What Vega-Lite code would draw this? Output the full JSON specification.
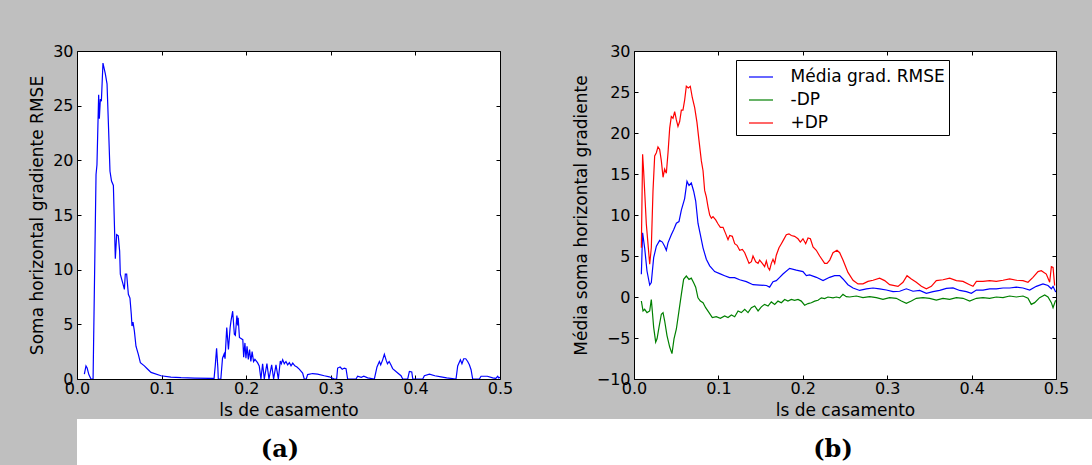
{
 "$schema": "https://vega.github.io/schema/vega-lite/v6.json",
 "background": "#bfbfbf",
 "padding": {"left": 28, "top": 42, "right": 0, "bottom": 0},
 "config": {
  "font": "DejaVu Sans",
  "view": {"stroke": "#000", "strokeWidth": 1, "fill": "white"},
  "axis": {"grid": false, "domain": false, "ticks": true, "tickColor": "#000", "tickSize": -4, "labelFont": "DejaVu Sans", "labelFontSize": 16, "labelColor": "#000", "titleFont": "DejaVu Sans", "titleFontSize": 17, "titleFontWeight": "normal", "titleColor": "#000", "labelFlush": false, "labelOverlap": false},
  "axisX": {"labelPadding": 5, "titlePadding": 6},
  "axisY": {"labelPadding": 8, "titlePadding": 6}
 },
 "datasets": {
  "a": [
   {"x":0.0087,"y":0.45},{"x":0.0106,"y":1.2},{"x":0.012,"y":1.0},{"x":0.014,"y":0.4},{"x":0.0165,"y":0.0},{"x":0.019,"y":0.0},{"x":0.0225,"y":18.7},{"x":0.0236,"y":19.6},{"x":0.0256,"y":26.0},{"x":0.0264,"y":23.8},{"x":0.0276,"y":25.6},{"x":0.0288,"y":25.4},{"x":0.0307,"y":28.9},{"x":0.0335,"y":27.9},{"x":0.0355,"y":27.0},{"x":0.0374,"y":22.7},{"x":0.039,"y":19.0},{"x":0.0408,"y":18.1},{"x":0.043,"y":17.7},{"x":0.0441,"y":14.5},{"x":0.0453,"y":11.0},{"x":0.0469,"y":13.2},{"x":0.0488,"y":13.1},{"x":0.0504,"y":11.7},{"x":0.0512,"y":9.6},{"x":0.054,"y":8.8},{"x":0.056,"y":8.2},{"x":0.0571,"y":9.6},{"x":0.0587,"y":9.6},{"x":0.0607,"y":7.75},{"x":0.0626,"y":7.4},{"x":0.0642,"y":5.9},{"x":0.065,"y":4.85},{"x":0.0662,"y":5.2},{"x":0.0678,"y":4.4},{"x":0.0697,"y":3.0},{"x":0.0725,"y":2.26},{"x":0.0749,"y":1.5},{"x":0.0796,"y":1.2},{"x":0.0836,"y":0.89},{"x":0.0875,"y":0.6},{"x":0.0993,"y":0.3},{"x":0.111,"y":0.18},{"x":0.123,"y":0.12},{"x":0.139,"y":0.08},{"x":0.16,"y":0.05},{"x":0.162,"y":0.03},{"x":0.1634,"y":1.2},{"x":0.165,"y":2.8},{"x":0.1665,"y":1.0},{"x":0.167,"y":0.0},{"x":0.17,"y":0.0},{"x":0.172,"y":1.9},{"x":0.174,"y":2.3},{"x":0.175,"y":1.85},{"x":0.177,"y":4.7},{"x":0.179,"y":2.7},{"x":0.181,"y":4.7},{"x":0.182,"y":5.3},{"x":0.184,"y":6.2},{"x":0.186,"y":4.1},{"x":0.1872,"y":4.0},{"x":0.189,"y":5.8},{"x":0.19,"y":4.9},{"x":0.1905,"y":5.6},{"x":0.192,"y":3.8},{"x":0.196,"y":3.6},{"x":0.197,"y":2.0},{"x":0.1985,"y":3.3},{"x":0.1997,"y":1.9},{"x":0.201,"y":3.0},{"x":0.2025,"y":1.8},{"x":0.204,"y":2.7},{"x":0.2055,"y":1.6},{"x":0.207,"y":2.5},{"x":0.2087,"y":1.6},{"x":0.2103,"y":1.8},{"x":0.2134,"y":1.5},{"x":0.2154,"y":1.2},{"x":0.2174,"y":0.0},{"x":0.2194,"y":1.4},{"x":0.2214,"y":0.0},{"x":0.2245,"y":1.4},{"x":0.2269,"y":0.0},{"x":0.2301,"y":1.3},{"x":0.2324,"y":0.0},{"x":0.2352,"y":1.3},{"x":0.238,"y":0.0},{"x":0.2403,"y":1.65},{"x":0.2415,"y":1.4},{"x":0.2431,"y":1.77},{"x":0.245,"y":1.4},{"x":0.247,"y":1.6},{"x":0.249,"y":1.3},{"x":0.251,"y":1.5},{"x":0.253,"y":1.2},{"x":0.255,"y":1.45},{"x":0.2575,"y":1.2},{"x":0.26,"y":1.1},{"x":0.2627,"y":0.9},{"x":0.2667,"y":0.55},{"x":0.2686,"y":0.0},{"x":0.271,"y":0.0},{"x":0.2726,"y":0.4},{"x":0.2785,"y":0.5},{"x":0.2844,"y":0.45},{"x":0.2923,"y":0.3},{"x":0.2982,"y":0.2},{"x":0.3041,"y":0.0},{"x":0.3069,"y":0.0},{"x":0.3081,"y":1.0},{"x":0.311,"y":1.1},{"x":0.3135,"y":0.9},{"x":0.316,"y":1.0},{"x":0.318,"y":0.95},{"x":0.3199,"y":0.0},{"x":0.3298,"y":0.0},{"x":0.3317,"y":0.25},{"x":0.336,"y":0.15},{"x":0.339,"y":0.25},{"x":0.3436,"y":0.1},{"x":0.3515,"y":0.0},{"x":0.3546,"y":1.1},{"x":0.3574,"y":1.6},{"x":0.359,"y":1.3},{"x":0.3613,"y":1.75},{"x":0.3633,"y":2.26},{"x":0.3655,"y":1.7},{"x":0.367,"y":1.4},{"x":0.369,"y":1.6},{"x":0.371,"y":1.3},{"x":0.3731,"y":0.95},{"x":0.3791,"y":0.55},{"x":0.383,"y":0.3},{"x":0.385,"y":0.0},{"x":0.3909,"y":0.0},{"x":0.3929,"y":0.7},{"x":0.3957,"y":0.65},{"x":0.3969,"y":0.0},{"x":0.4087,"y":0.0},{"x":0.4106,"y":0.3},{"x":0.4166,"y":0.45},{"x":0.423,"y":0.3},{"x":0.4303,"y":0.2},{"x":0.437,"y":0.1},{"x":0.448,"y":0.0},{"x":0.45,"y":1.2},{"x":0.4532,"y":1.75},{"x":0.455,"y":1.4},{"x":0.4571,"y":1.85},{"x":0.4595,"y":1.85},{"x":0.4618,"y":1.6},{"x":0.4638,"y":1.3},{"x":0.4658,"y":0.85},{"x":0.4677,"y":0.0},{"x":0.4756,"y":0.0},{"x":0.4776,"y":0.25},{"x":0.485,"y":0.25},{"x":0.4914,"y":0.1},{"x":0.495,"y":0.05},{"x":0.4973,"y":0.25},{"x":0.4985,"y":0.1},{"x":0.5,"y":0.15}
  ],
  "bm": [
   {"x":0.0087,"y":2.77},{"x":0.0102,"y":7.84},{"x":0.0126,"y":6.0},{"x":0.0154,"y":3.17},{"x":0.0186,"y":1.46},{"x":0.0205,"y":1.75},{"x":0.0233,"y":4.8},{"x":0.0265,"y":6.2},{"x":0.0304,"y":6.9},{"x":0.0336,"y":6.7},{"x":0.0363,"y":6.2},{"x":0.0383,"y":5.7},{"x":0.0403,"y":6.6},{"x":0.0442,"y":7.6},{"x":0.047,"y":8.2},{"x":0.0502,"y":9.0},{"x":0.0533,"y":9.2},{"x":0.0561,"y":10.6},{"x":0.06,"y":12.0},{"x":0.0628,"y":14.1},{"x":0.0652,"y":13.6},{"x":0.0679,"y":13.9},{"x":0.0707,"y":12.9},{"x":0.0731,"y":11.7},{"x":0.0758,"y":9.0},{"x":0.0786,"y":7.6},{"x":0.0818,"y":6.0},{"x":0.0857,"y":4.6},{"x":0.0897,"y":3.8},{"x":0.0956,"y":3.1},{"x":0.1015,"y":2.85},{"x":0.1074,"y":2.6},{"x":0.1133,"y":2.36},{"x":0.1192,"y":2.36},{"x":0.1252,"y":2.1},{"x":0.1331,"y":1.87},{"x":0.141,"y":1.5},{"x":0.1489,"y":1.46},{"x":0.1568,"y":1.4},{"x":0.1607,"y":1.2},{"x":0.1647,"y":1.87},{"x":0.1686,"y":2.0},{"x":0.1726,"y":2.4},{"x":0.1765,"y":2.8},{"x":0.1844,"y":3.5},{"x":0.1923,"y":3.27},{"x":0.2002,"y":3.1},{"x":0.2042,"y":2.6},{"x":0.2081,"y":2.7},{"x":0.2161,"y":2.4},{"x":0.224,"y":2.0},{"x":0.2318,"y":2.4},{"x":0.2377,"y":2.6},{"x":0.2437,"y":2.6},{"x":0.2476,"y":2.2},{"x":0.2535,"y":1.5},{"x":0.2595,"y":1.1},{"x":0.2674,"y":0.8},{"x":0.2753,"y":1.0},{"x":0.2832,"y":1.1},{"x":0.291,"y":1.0},{"x":0.299,"y":0.85},{"x":0.3069,"y":0.65},{"x":0.3148,"y":0.7},{"x":0.3227,"y":1.0},{"x":0.3306,"y":0.7},{"x":0.3385,"y":0.8},{"x":0.3464,"y":0.45},{"x":0.3543,"y":0.65},{"x":0.3622,"y":0.8},{"x":0.3701,"y":1.06},{"x":0.378,"y":1.1},{"x":0.3859,"y":0.8},{"x":0.3938,"y":0.65},{"x":0.3997,"y":0.45},{"x":0.4057,"y":0.85},{"x":0.4135,"y":0.85},{"x":0.4214,"y":1.0},{"x":0.4293,"y":1.0},{"x":0.4372,"y":1.1},{"x":0.4451,"y":1.1},{"x":0.453,"y":1.2},{"x":0.4609,"y":1.1},{"x":0.4688,"y":0.85},{"x":0.4767,"y":1.3},{"x":0.4846,"y":1.6},{"x":0.4905,"y":1.4},{"x":0.4945,"y":1.0},{"x":0.4965,"y":1.3},{"x":0.4996,"y":0.6}
  ],
  "blo": [
   {"x":0.0087,"y":-0.49},{"x":0.0107,"y":-1.7},{"x":0.0126,"y":-1.5},{"x":0.0154,"y":-1.9},{"x":0.0186,"y":-1.7},{"x":0.0205,"y":-0.3},{"x":0.0217,"y":-1.7},{"x":0.0233,"y":-3.7},{"x":0.0257,"y":-5.5},{"x":0.0273,"y":-5.1},{"x":0.0296,"y":-3.7},{"x":0.0324,"y":-2.1},{"x":0.0344,"y":-1.9},{"x":0.0363,"y":-2.9},{"x":0.0391,"y":-4.7},{"x":0.0423,"y":-6.1},{"x":0.045,"y":-6.9},{"x":0.0474,"y":-5.1},{"x":0.0502,"y":-3.9},{"x":0.0533,"y":-1.7},{"x":0.0561,"y":0.33},{"x":0.0588,"y":2.15},{"x":0.062,"y":2.56},{"x":0.0652,"y":2.15},{"x":0.0679,"y":2.3},{"x":0.0707,"y":1.75},{"x":0.0731,"y":1.2},{"x":0.0758,"y":-0.1},{"x":0.0786,"y":-0.5},{"x":0.0818,"y":-0.7},{"x":0.0849,"y":-1.3},{"x":0.0889,"y":-1.9},{"x":0.0928,"y":-2.5},{"x":0.0975,"y":-2.4},{"x":0.1023,"y":-2.6},{"x":0.1074,"y":-2.3},{"x":0.1114,"y":-2.5},{"x":0.1154,"y":-2.2},{"x":0.1193,"y":-2.4},{"x":0.1233,"y":-1.7},{"x":0.1272,"y":-1.9},{"x":0.1312,"y":-1.5},{"x":0.1351,"y":-1.9},{"x":0.1391,"y":-1.3},{"x":0.143,"y":-1.1},{"x":0.147,"y":-1.7},{"x":0.1509,"y":-1.2},{"x":0.1548,"y":-0.9},{"x":0.1588,"y":-1.1},{"x":0.1627,"y":-0.6},{"x":0.1667,"y":-0.9},{"x":0.1706,"y":-0.5},{"x":0.1746,"y":-0.7},{"x":0.1785,"y":-0.3},{"x":0.1824,"y":-0.5},{"x":0.1864,"y":-0.3},{"x":0.1903,"y":-0.4},{"x":0.1943,"y":-0.3},{"x":0.1982,"y":-0.5},{"x":0.2022,"y":-1.0},{"x":0.2062,"y":-0.8},{"x":0.2101,"y":-0.7},{"x":0.2141,"y":-0.5},{"x":0.218,"y":-0.4},{"x":0.222,"y":-0.1},{"x":0.2259,"y":-0.2},{"x":0.2298,"y":0.0},{"x":0.2358,"y":-0.1},{"x":0.2397,"y":0.0},{"x":0.2437,"y":-0.1},{"x":0.2476,"y":0.33},{"x":0.2515,"y":0.04},{"x":0.2555,"y":0.0},{"x":0.2634,"y":0.12},{"x":0.2713,"y":-0.08},{"x":0.2792,"y":0.04},{"x":0.2871,"y":-0.08},{"x":0.295,"y":-0.28},{"x":0.3029,"y":-0.08},{"x":0.3108,"y":-0.16},{"x":0.3168,"y":-0.49},{"x":0.3227,"y":-0.77},{"x":0.3286,"y":-0.49},{"x":0.3345,"y":-0.16},{"x":0.3424,"y":-0.08},{"x":0.3503,"y":-0.16},{"x":0.3582,"y":-0.37},{"x":0.3661,"y":-0.16},{"x":0.374,"y":-0.28},{"x":0.382,"y":-0.08},{"x":0.3898,"y":-0.16},{"x":0.3977,"y":-0.49},{"x":0.4057,"y":-0.16},{"x":0.4135,"y":-0.08},{"x":0.4214,"y":-0.16},{"x":0.4293,"y":0.0},{"x":0.4372,"y":-0.08},{"x":0.4451,"y":0.12},{"x":0.453,"y":0.0},{"x":0.4609,"y":0.12},{"x":0.4668,"y":-0.16},{"x":0.4707,"y":-0.9},{"x":0.4747,"y":-0.69},{"x":0.4806,"y":-0.08},{"x":0.4866,"y":0.25},{"x":0.4905,"y":0.0},{"x":0.4945,"y":-0.69},{"x":0.4965,"y":-1.3},{"x":0.4996,"y":-0.4}
  ],
  "bhi": [
   {"x":0.0087,"y":6.0},{"x":0.0102,"y":17.4},{"x":0.0114,"y":15.4},{"x":0.0146,"y":8.9},{"x":0.0186,"y":4.0},{"x":0.0205,"y":6.0},{"x":0.0225,"y":12.9},{"x":0.0245,"y":17.2},{"x":0.0265,"y":17.6},{"x":0.0284,"y":18.3},{"x":0.0304,"y":18.0},{"x":0.0324,"y":16.6},{"x":0.0344,"y":14.6},{"x":0.0363,"y":15.6},{"x":0.0383,"y":15.1},{"x":0.0403,"y":17.6},{"x":0.0423,"y":20.6},{"x":0.0442,"y":22.0},{"x":0.0462,"y":21.8},{"x":0.0482,"y":22.6},{"x":0.0502,"y":21.6},{"x":0.0521,"y":20.8},{"x":0.0541,"y":21.4},{"x":0.0561,"y":22.8},{"x":0.058,"y":22.8},{"x":0.06,"y":24.0},{"x":0.062,"y":25.7},{"x":0.0644,"y":25.5},{"x":0.0667,"y":25.7},{"x":0.0691,"y":24.3},{"x":0.0719,"y":23.1},{"x":0.0746,"y":21.3},{"x":0.077,"y":19.1},{"x":0.0798,"y":16.6},{"x":0.0818,"y":15.4},{"x":0.0837,"y":13.0},{"x":0.0857,"y":12.2},{"x":0.0877,"y":11.0},{"x":0.0897,"y":10.0},{"x":0.0917,"y":9.6},{"x":0.0936,"y":9.8},{"x":0.0968,"y":9.4},{"x":0.0996,"y":8.9},{"x":0.1023,"y":8.5},{"x":0.1055,"y":8.5},{"x":0.1087,"y":7.7},{"x":0.1114,"y":7.0},{"x":0.1134,"y":7.5},{"x":0.1165,"y":7.4},{"x":0.1193,"y":6.5},{"x":0.1221,"y":6.3},{"x":0.1252,"y":5.7},{"x":0.1284,"y":5.8},{"x":0.1312,"y":5.4},{"x":0.1331,"y":4.9},{"x":0.1363,"y":4.1},{"x":0.1391,"y":4.3},{"x":0.141,"y":5.0},{"x":0.1442,"y":4.3},{"x":0.147,"y":4.1},{"x":0.1489,"y":4.5},{"x":0.152,"y":4.1},{"x":0.1548,"y":3.7},{"x":0.1568,"y":4.4},{"x":0.1588,"y":3.6},{"x":0.1607,"y":3.3},{"x":0.1627,"y":4.1},{"x":0.1647,"y":4.6},{"x":0.1667,"y":4.1},{"x":0.1686,"y":5.1},{"x":0.1718,"y":6.0},{"x":0.1746,"y":6.5},{"x":0.1773,"y":7.0},{"x":0.1805,"y":7.6},{"x":0.1836,"y":7.7},{"x":0.1864,"y":7.5},{"x":0.1903,"y":7.4},{"x":0.1943,"y":7.1},{"x":0.1971,"y":6.7},{"x":0.2002,"y":7.1},{"x":0.2034,"y":6.5},{"x":0.2062,"y":7.2},{"x":0.209,"y":7.1},{"x":0.2121,"y":6.1},{"x":0.216,"y":5.7},{"x":0.22,"y":5.0},{"x":0.2259,"y":4.1},{"x":0.2287,"y":4.1},{"x":0.2319,"y":4.5},{"x":0.2358,"y":5.4},{"x":0.2405,"y":5.7},{"x":0.2437,"y":5.4},{"x":0.2476,"y":4.5},{"x":0.2535,"y":3.0},{"x":0.2595,"y":2.04},{"x":0.2654,"y":1.6},{"x":0.2713,"y":1.6},{"x":0.2772,"y":1.9},{"x":0.2832,"y":2.04},{"x":0.291,"y":2.3},{"x":0.297,"y":2.0},{"x":0.3029,"y":1.5},{"x":0.3128,"y":1.3},{"x":0.3187,"y":1.8},{"x":0.3235,"y":2.6},{"x":0.3286,"y":2.2},{"x":0.3345,"y":1.8},{"x":0.3405,"y":1.3},{"x":0.3464,"y":1.0},{"x":0.3523,"y":1.3},{"x":0.3582,"y":2.0},{"x":0.3661,"y":2.1},{"x":0.374,"y":2.3},{"x":0.382,"y":2.0},{"x":0.3898,"y":1.9},{"x":0.3977,"y":1.5},{"x":0.4017,"y":1.3},{"x":0.4057,"y":1.9},{"x":0.4135,"y":1.9},{"x":0.4214,"y":2.0},{"x":0.4293,"y":1.9},{"x":0.4372,"y":2.04},{"x":0.4451,"y":2.2},{"x":0.453,"y":2.04},{"x":0.4609,"y":2.0},{"x":0.4668,"y":1.8},{"x":0.4727,"y":2.4},{"x":0.4787,"y":3.1},{"x":0.4826,"y":3.2},{"x":0.4885,"y":2.8},{"x":0.4925,"y":1.8},{"x":0.4945,"y":3.7},{"x":0.4965,"y":3.6},{"x":0.4984,"y":1.4}
  ]
 },
 "spacing": 0,
 "vconcat": [
  {
   "spacing": 57,
   "hconcat": [
    {
     "width": 423, "height": 328,
     "data": {"name": "a"},
     "layer": [
      {
       "mark": {"type": "line", "color": "#0000ff", "strokeWidth": 1.2, "clip": true},
       "encoding": {
        "x": {"field": "x", "type": "quantitative", "scale": {"domain": [0, 0.5], "nice": false, "zero": false}, "axis": {"orient": "bottom", "values": [0, 0.1, 0.2, 0.3, 0.4, 0.5], "format": ".1f", "title": "ls de casamento"}},
        "y": {"field": "y", "type": "quantitative", "scale": {"domain": [0, 30], "nice": false}, "axis": {"orient": "left", "values": [0, 5, 10, 15, 20, 25, 30], "format": "d", "title": "Soma horizontal gradiente RMSE"}}
       }
      },
      {
       "mark": {"type": "point", "opacity": 0},
       "encoding": {
        "x": {"field": "x", "type": "quantitative", "axis": {"orient": "top", "values": [0, 0.1, 0.2, 0.3, 0.4, 0.5], "labels": false, "title": null}},
        "y": {"field": "y", "type": "quantitative", "axis": {"orient": "right", "values": [0, 5, 10, 15, 20, 25, 30], "labels": false, "title": null}}
       }
      }
     ],
     "resolve": {"axis": {"x": "independent", "y": "independent"}}
    },
    {
     "width": 422, "height": 328,
     "layer": [
      {
       "data": {"name": "bm"},
       "mark": {"type": "line", "strokeWidth": 1.2, "clip": true},
       "encoding": {
        "x": {"field": "x", "type": "quantitative", "scale": {"domain": [0, 0.5], "nice": false, "zero": false}, "axis": {"orient": "bottom", "values": [0, 0.1, 0.2, 0.3, 0.4, 0.5], "format": ".1f", "title": "ls de casamento"}},
        "y": {"field": "y", "type": "quantitative", "scale": {"domain": [-10, 30], "nice": false}, "axis": {"orient": "left", "values": [-10, -5, 0, 5, 10, 15, 20, 25, 30], "format": "d", "title": "Média soma horizontal gradiente"}},
        "color": {"datum": "Média grad. RMSE", "scale": {"domain": ["Média grad. RMSE", "-DP", "+DP"], "range": ["#0000ff", "#008000", "#ff0000"]},
         "legend": {"orient": "none", "legendX": 659, "legendY": 9, "title": null, "symbolType": "stroke", "symbolSize": 576, "symbolStrokeWidth": 1.2, "labelFont": "DejaVu Sans", "labelFontSize": 17, "labelColor": "#000", "strokeColor": "#000", "fillColor": "#fff", "padding": 4, "rowPadding": 2, "labelOffset": 16.5, "symbolOffset": 8}}
       }
      },
      {
       "data": {"name": "blo"},
       "mark": {"type": "line", "strokeWidth": 1.2, "clip": true},
       "encoding": {
        "x": {"field": "x", "type": "quantitative", "axis": null},
        "y": {"field": "y", "type": "quantitative", "axis": null},
        "color": {"datum": "-DP"}
       }
      },
      {
       "data": {"name": "bhi"},
       "mark": {"type": "line", "strokeWidth": 1.2, "clip": true},
       "encoding": {
        "x": {"field": "x", "type": "quantitative", "axis": null},
        "y": {"field": "y", "type": "quantitative", "axis": null},
        "color": {"datum": "+DP"}
       }
      },
      {
       "data": {"name": "bm"},
       "mark": {"type": "point", "opacity": 0},
       "encoding": {
        "x": {"field": "x", "type": "quantitative", "axis": {"orient": "top", "values": [0, 0.1, 0.2, 0.3, 0.4, 0.5], "labels": false, "title": null}},
        "y": {"field": "y", "type": "quantitative", "axis": {"orient": "right", "values": [-10, -5, 0, 5, 10, 15, 20, 25, 30], "labels": false, "title": null}}
       }
      }
     ],
     "resolve": {"axis": {"x": "independent", "y": "independent"}}
    }
   ]
  },
  {
   "width": 1015, "height": 46,
   "view": {"fill": "white", "stroke": null},
   "data": {"values": [{"lab": "(a)"}, {"lab": "(b)"}]},
   "mark": {"type": "text", "font": "DejaVu Serif", "fontWeight": "bold", "fontSize": 24, "color": "#000", "baseline": "middle", "dy": 8},
   "encoding": {
    "x": {"field": "lab", "type": "nominal", "axis": null, "scale": {"type": "point", "padding": 0.4177, "align": 0.4394}},
    "text": {"field": "lab"}
   }
  }
 ]
}
